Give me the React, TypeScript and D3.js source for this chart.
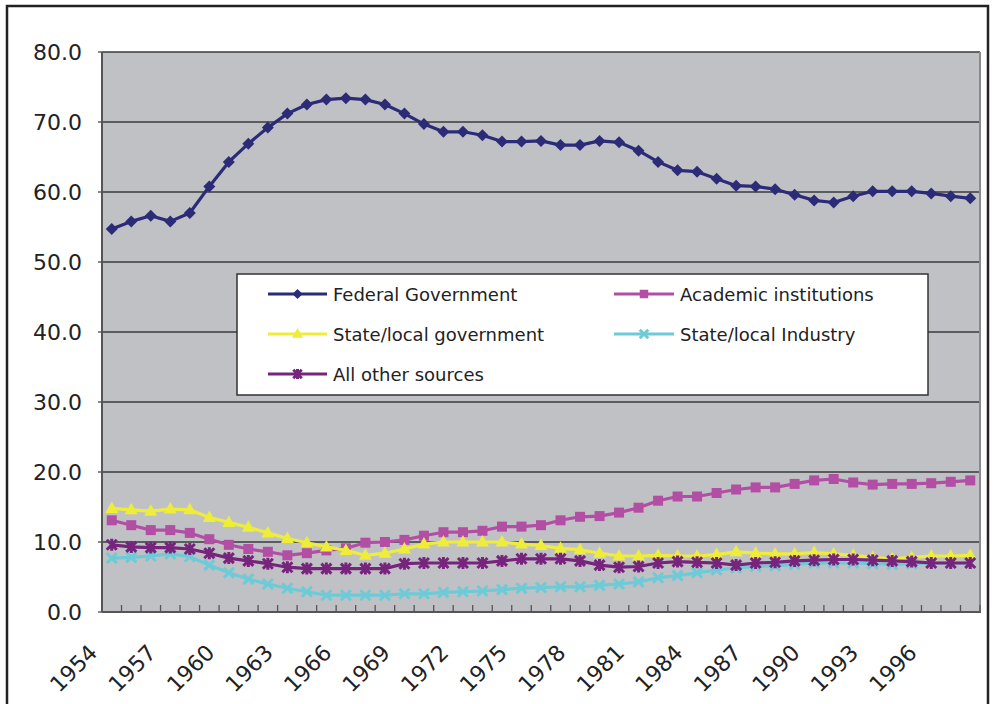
import React from 'react';
import * as d3 from 'd3';

const years = ["1954","1955","1956","1957","1958","1959","1960","1961","1962","1963","1964","1965","1966","1967","1968","1969","1970","1971","1972","1973","1974","1975","1976","1977","1978","1979","1980","1981","1982","1983","1984","1985","1986","1987","1988","1989","1990","1991","1992","1993","1994","1995","1996","1997","1998"];
const tickYears = ["1954","1957","1960","1963","1966","1969","1972","1975","1978","1981","1984","1987","1990","1993","1996"];
const yTicks = [0, 10, 20, 30, 40, 50, 60, 70, 80];

const federal = [54.7, 55.8, 56.6, 55.8, 57.0, 60.8, 64.3, 66.9, 69.2, 71.2, 72.5, 73.2, 73.4, 73.2, 72.5, 71.2, 69.7, 68.6, 68.6, 68.1, 67.2, 67.2, 67.3, 66.7, 66.7, 67.3, 67.1, 65.9, 64.3, 63.1, 62.9, 61.9, 60.9, 60.8, 60.4, 59.6, 58.8, 58.5, 59.4, 60.1, 60.1, 60.1, 59.8, 59.4, 59.1];
const academic = [13.1, 12.4, 11.7, 11.7, 11.3, 10.4, 9.6, 9.0, 8.6, 8.1, 8.4, 8.8, 9.1, 9.9, 10.0, 10.3, 10.9, 11.4, 11.4, 11.6, 12.2, 12.2, 12.4, 13.1, 13.6, 13.7, 14.2, 14.9, 15.9, 16.5, 16.5, 17.0, 17.5, 17.8, 17.8, 18.3, 18.8, 19.0, 18.5, 18.2, 18.3, 18.3, 18.4, 18.6, 18.8];
const stateGov = [14.8, 14.6, 14.4, 14.7, 14.6, 13.5, 12.8, 12.1, 11.3, 10.5, 9.9, 9.3, 8.8, 8.1, 8.4, 9.0, 9.7, 10.0, 10.0, 10.0, 10.0, 9.7, 9.5, 9.1, 8.9, 8.4, 8.0, 8.0, 8.1, 8.0, 8.0, 8.2, 8.6, 8.4, 8.3, 8.3, 8.5, 8.3, 8.1, 7.8, 7.6, 7.8, 8.0, 8.0, 8.1];
const industry = [7.7, 7.8, 8.0, 8.3, 7.9, 6.7, 5.6, 4.7, 4.0, 3.4, 2.9, 2.4, 2.4, 2.4, 2.4, 2.6, 2.6, 2.8, 2.9, 3.0, 3.2, 3.4, 3.5, 3.6, 3.6, 3.8, 4.0, 4.3, 4.9, 5.2, 5.6, 6.0, 6.3, 6.5, 6.6, 6.8, 7.0, 7.0, 7.0, 6.9, 6.8, 6.9, 7.0, 7.0, 7.0];
const otherSources = [9.6, 9.3, 9.2, 9.2, 9.0, 8.4, 7.7, 7.3, 6.9, 6.4, 6.2, 6.2, 6.2, 6.2, 6.2, 6.9, 7.0, 7.0, 7.0, 7.0, 7.3, 7.6, 7.6, 7.6, 7.3, 6.7, 6.4, 6.5, 7.0, 7.2, 7.1, 7.0, 6.7, 7.0, 7.1, 7.3, 7.4, 7.5, 7.5, 7.4, 7.3, 7.2, 7.0, 7.0, 7.0];

const seriesNames = ["Federal Government", "Academic institutions", "State/local government", "State/local Industry", "All other sources"];
const seriesValues = [federal, academic, stateGov, industry, otherSources];
const seriesColors = ["#2b2b78", "#b24fa4", "#eded3a", "#6ccbd6", "#77247c"];
const seriesMarkers = ["diamond", "square", "triangle", "x", "star"];

const FONT = "'DejaVu Sans', sans-serif";

function Marker({ type, cx, cy, color, s = 1 }: { type: string; cx: number; cy: number; color: string; s?: number }) {
  if (type === 'diamond') {
    const r = 6 * s;
    return <polygon points={`${cx},${cy - r} ${cx + r},${cy} ${cx},${cy + r} ${cx - r},${cy}`} fill={color} />;
  }
  if (type === 'square') {
    const h = 5 * s;
    return <rect x={cx - h} y={cy - h} width={2 * h} height={2 * h} fill={color} />;
  }
  if (type === 'triangle') {
    return <polygon points={`${cx},${cy - 7 * s} ${cx + 6.5 * s},${cy + 4.5 * s} ${cx - 6.5 * s},${cy + 4.5 * s}`} fill={color} />;
  }
  const r = 5 * s;
  if (type === 'x') {
    return <path d={`M${cx - r},${cy - r}L${cx + r},${cy + r}M${cx - r},${cy + r}L${cx + r},${cy - r}`} stroke={color} strokeWidth={3} fill="none" />;
  }
  return <path d={`M${cx - r},${cy - r}L${cx + r},${cy + r}M${cx - r},${cy + r}L${cx + r},${cy - r}M${cx},${cy - 6 * s}L${cx},${cy + 6 * s}`} stroke={color} strokeWidth={3} fill="none" />;
}

export default function App() {
  const W = 995, H = 704;
  const left = 102, right = 980, top = 52, bottom = 612;
  const x = d3.scaleBand<string>().domain(years).range([left, right]).paddingInner(0).paddingOuter(0);
  const bw = x.bandwidth();
  const cx = (yr: string) => (x(yr) as number) + bw / 2;
  const y = d3.scaleLinear().domain([0, 80]).range([bottom, top]);
  const line = d3.line<number>().x((_, i) => cx(years[i])).y(d => y(d));

  const legendRows = [294, 334, 374];
  const legendCols = [{ l0: 268, l1: 327, t: 333 }, { l0: 614, l1: 674, t: 680 }];

  return (
    <div style={{ position: 'fixed', left: 0, top: 0 }}>
      <svg width={W} height={H} style={{ display: 'block', background: '#fff' }}>
        <rect x={7} y={6} width={981} height={760} fill="#fff" stroke="#222" strokeWidth={2.5} />
        <rect x={left} y={top} width={right - left} height={bottom - top} fill="#c0c1c5" />
        {yTicks.filter(t => t > 0).map(t => (
          <line key={t} x1={left} x2={right} y1={y(t)} y2={y(t)} stroke="#3a3a3a" strokeWidth={1.4} />
        ))}
        <line x1={right} x2={right} y1={top} y2={bottom} stroke="#8a8a8a" strokeWidth={2} />
        {years.map(yr => (
          <line key={yr} x1={x(yr)} x2={x(yr)} y1={bottom} y2={bottom - 7} stroke="#555" strokeWidth={1.3} />
        ))}
        <line x1={right} x2={right} y1={bottom} y2={bottom - 7} stroke="#555" strokeWidth={1.3} />
        <line x1={left} x2={right + 1} y1={bottom} y2={bottom} stroke="#555" strokeWidth={2} />
        <line x1={left} x2={left} y1={top} y2={bottom} stroke="#555" strokeWidth={2} />
        {yTicks.map(t => (
          <g key={t}>
            <line x1={left - 4} x2={left} y1={y(t)} y2={y(t)} stroke="#555" strokeWidth={1.4} />
            <text x={82} y={y(t) + 8} textAnchor="end" fontFamily={FONT} fontSize={22} fill="#222">{t.toFixed(1)}</text>
          </g>
        ))}
        {tickYears.map(yr => {
          const ax = cx(yr) - 13, ay = 654;
          return (
            <text key={yr} x={ax} y={ay} textAnchor="end" fontFamily={FONT} fontSize={22} fill="#222"
              transform={`rotate(-45 ${ax} ${ay})`}>{yr}</text>
          );
        })}
        {seriesValues.map((vals, si) => (
          <g key={si}>
            <path d={line(vals) as string} fill="none" stroke={seriesColors[si]} strokeWidth={3.2} strokeLinejoin="round" />
            {vals.map((v, i) => (
              <Marker key={i} type={seriesMarkers[si]} cx={cx(years[i])} cy={y(v)} color={seriesColors[si]} />
            ))}
          </g>
        ))}
        <rect x={237} y={274} width={691} height={121} fill="#fff" stroke="#333" strokeWidth={1.5} />
        {seriesNames.map((name, si) => {
          const row = legendRows[Math.floor(si / 2)];
          const col = legendCols[si % 2];
          const mid = (col.l0 + col.l1) / 2;
          return (
            <g key={name}>
              <line x1={col.l0} x2={col.l1} y1={row} y2={row} stroke={seriesColors[si]} strokeWidth={3} />
              <Marker type={seriesMarkers[si]} cx={mid} cy={row} color={seriesColors[si]} s={0.85} />
              <text x={col.t} y={row + 6.5} fontFamily={FONT} fontSize={18} fill="#222">{name}</text>
            </g>
          );
        })}
      </svg>
    </div>
  );
}
